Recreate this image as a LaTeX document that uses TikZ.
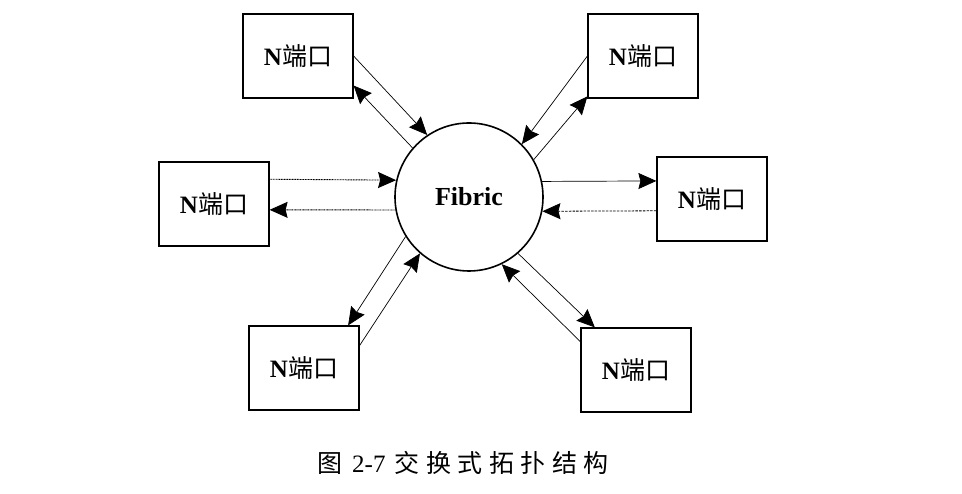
\documentclass[tikz,border=0pt]{standalone}
\usepackage{fontspec}
\setmainfont{Liberation Serif}
\newfontfamily\cjk{Noto Sans CJK SC}
\newfontfamily\cjkcap[LetterSpace=26]{Noto Sans CJK SC}
\usetikzlibrary{arrows.meta}

\begin{document}
\begin{tikzpicture}[x=1pt, y=1pt,
        port/.style={rectangle, draw, line width=1.2pt, minimum width=110pt,
            minimum height=84pt, inner sep=0pt, font=\fontsize{25}{28}\selectfont},
        link/.style={-{Stealth[length=18pt, width=16pt, inset=2pt]}, line width=0.7pt}]
            \useasboundingbox (0,0) rectangle (962,494);
            \node[circle, draw, line width=1.6pt, minimum size=148pt, inner sep=0pt,
                font=\fontsize{26}{30}\selectfont\bfseries] (fab) at (469,297) {Fibric};
            \node[port] (p1) at (298,438) {\textbf{N}{\cjk 端口}};
            \node[port] (p2) at (214,290) {\textbf{N}{\cjk 端口}};
            \node[port] (p3) at (643,438) {\textbf{N}{\cjk 端口}};
            \node[port] (p4) at (712,295) {\textbf{N}{\cjk 端口}};
            \node[port] (p5) at (304,126) {\textbf{N}{\cjk 端口}};
            \node[port] (p6) at (636,124) {\textbf{N}{\cjk 端口}};
            % upper left
            \draw[link] (p1.east) -- (fab.124);
            \draw[link] (fab.139) -- (p1.-28);
            % left
            \draw[link, line width=0.9pt, dash pattern=on 1pt off 0.6pt] (p2.24) -- (fab.167);
            \draw[link, line width=0.9pt, dash pattern=on 1pt off 0.6pt] (fab.190) -- (p2.-6);
            % upper right
            \draw[link] (p3.west) -- (fab.45);
            \draw[link] (fab.30) -- (p3.216);
            % right
            \draw[link] (fab.12) -- (p4.162);
            \draw[link, line width=0.8pt, dash pattern=on 2.5pt off 1.2pt] (p4.192) -- (fab.-11);
            % lower left
            \draw[link] (fab.212) -- (p5.44);
            \draw[link] (p5.22) -- (fab.229);
            % lower right
            \draw[link] (fab.311) -- (p6.134);
            \draw[link] (p6.153) -- (fab.296);
            \node[font=\fontsize{25}{28}\selectfont] (cap) at (463,31)
                {{\cjk 图}\hspace{10pt}2-7\hspace{3pt} {\cjkcap 交换式拓扑结构}};
        \end{tikzpicture}
\end{document}
